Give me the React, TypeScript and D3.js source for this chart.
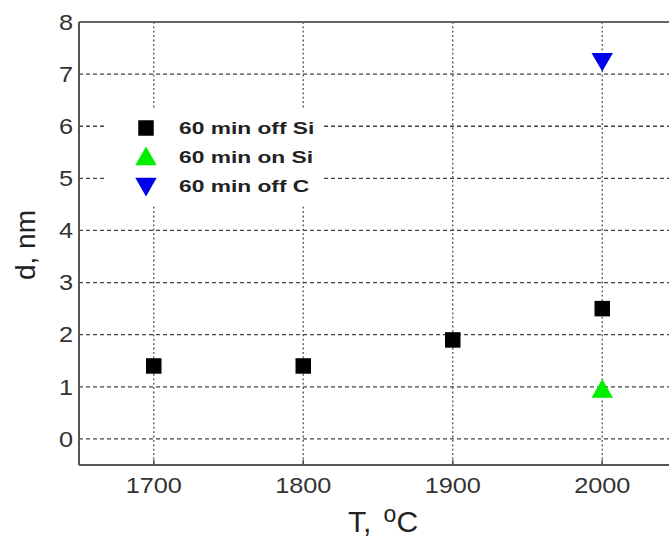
import React from "react";
import * as d3 from "d3";

const temps = [1700, 1800, 1900, 2000];
const offSi = [1.4, 1.4, 1.9, 2.5];
const onSiT = [2000];
const onSi = [0.95];
const offCT = [2000];
const offC = [7.25];
const yTicks = [0, 1, 2, 3, 4, 5, 6, 7, 8];
const xTicks = [1700, 1800, 1900, 2000];
const legendLabels = ["60 min off Si", "60 min on Si", "60 min off C"];

const W = 669, H = 539;
const L = 79, T = 22, R = 677, B = 465;

export default function App() {
  const x = d3.scaleLinear().domain([1650, 2050]).range([L, R]);
  const y = d3.scaleLinear().domain([-0.5, 8]).range([B, T]);
  const sq = d3.symbol().type(d3.symbolSquare).size(240);
  const tri = d3.symbol().type(d3.symbolTriangle).size(200);
  const lg = { x0: 106, y0: 108, x1: 322, y1: 205 };
  const font = "Arial, 'Liberation Sans', sans-serif";
  return (
    <svg width={W} height={H} style={{ position: "absolute", left: 0, top: 0, background: "#fff" }} fontFamily={font}>
      <defs>
        <clipPath id="plot"><rect x={L} y={T} width={W - L} height={B - T} /></clipPath>
      </defs>
      <g clipPath="url(#plot)">
        {yTicks.filter(v => v < 8).map(v => (
          <line key={"h" + v} x1={L} x2={R} y1={y(v)} y2={y(v)} stroke="#444" strokeWidth={1.3} strokeDasharray="4,3" />
        ))}
        {xTicks.map(v => (
          <line key={"v" + v} x1={x(v)} x2={x(v)} y1={T} y2={B} stroke="#555" strokeWidth={1.4} strokeDasharray="1.8,2.6" />
        ))}
        <rect x={lg.x0} y={lg.y0} width={lg.x1 - lg.x0} height={lg.y1 - lg.y0} fill="#fff" />
        {temps.map((t, i) => (
          <path key={"s" + i} d={sq()!} transform={`translate(${x(t)},${y(offSi[i])})`} fill="#000" />
        ))}
        {onSiT.map((t, i) => (
          <path key={"g" + i} d={tri()!} transform={`translate(${x(t)},${y(onSi[i]) + 2})`} fill="#00ee00" />
        ))}
        {offCT.map((t, i) => (
          <path key={"b" + i} d={tri()!} transform={`translate(${x(t)},${y(offC[i]) - 2}) rotate(180)`} fill="#0000ee" />
        ))}
      </g>
      <line x1={L} x2={W} y1={T} y2={T} stroke="#666" strokeWidth={2} />
      <line x1={L} x2={W} y1={B} y2={B} stroke="#555" strokeWidth={2} />
      <line x1={L} x2={L} y1={T} y2={B} stroke="#555" strokeWidth={2} />
      {xTicks.map(v => (
        <line key={"xt" + v} x1={x(v)} x2={x(v)} y1={B} y2={B - 5} stroke="#555" strokeWidth={1.5} />
      ))}
      {yTicks.map(v => (
        <text key={"yl" + v} transform={`translate(73,${y(v)}) scale(1.15,1)`} dy="0.35em" textAnchor="end" fontSize={22} fill="#333">{v}</text>
      ))}
      {xTicks.map(v => (
        <text key={"xl" + v} transform={`translate(${x(v)},493) scale(1.15,1)`} textAnchor="middle" fontSize={22} fill="#333">{v}</text>
      ))}
      <text x={383} y={532} textAnchor="middle" fontSize={30} fill="#222">
        T,  <tspan dx={4} dy={-10} fontSize={23}>o</tspan><tspan dy={10}>C</tspan>
      </text>
      <text transform="translate(35,245) rotate(-90)" textAnchor="middle" fontSize={28} fill="#222">d, nm</text>
      {legendLabels.map((s, i) => {
        const cy = 128 + i * 29;
        const mark = i === 0
          ? <path d={sq()!} transform={`translate(146,${cy})`} fill="#000" />
          : i === 1
            ? <path d={tri()!} transform={`translate(146,${cy + 2})`} fill="#00ee00" />
            : <path d={tri()!} transform={`translate(146,${cy - 2}) rotate(180)`} fill="#0000ee" />;
        return (
          <g key={"lg" + i}>
            {mark}
            <text transform={`translate(179,${cy}) scale(1.38,1)`} dy="0.35em" fontSize={16.5} fontWeight="bold" fill="#222">{s}</text>
          </g>
        );
      })}
    </svg>
  );
}
